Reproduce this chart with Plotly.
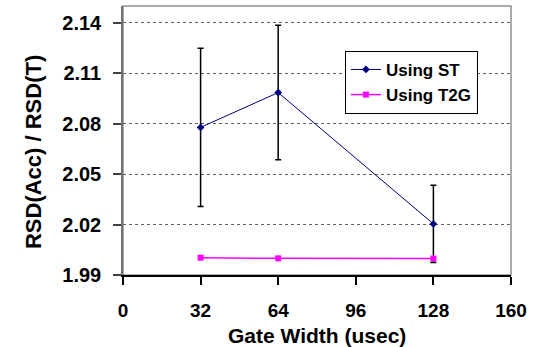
import plotly.graph_objects as go

# Gate widths (usec)
gate_width = [32, 64, 128]

# RSD(Acc)/RSD(T) ratios and their error half-widths
using_st = [2.0778, 2.0985, 2.0204]
using_st_err = [0.047, 0.040, 0.023]
using_t2g = [2.0003, 1.9999, 1.9998]

x_ticks = [0, 32, 64, 96, 128, 160]
y_ticks = [1.99, 2.02, 2.05, 2.08, 2.11, 2.14]

FONT = "Arial, Liberation Sans, sans-serif"

fig = go.Figure()

fig.add_trace(go.Scatter(
    x=gate_width, y=using_st, name="Using ST",
    mode="lines+markers",
    line=dict(color="#000080", width=1),
    marker=dict(symbol="diamond", size=6, color="#000080"),
    error_y=dict(type="data", array=using_st_err, visible=True,
                 color="black", thickness=1.5, width=3),
))

fig.add_trace(go.Scatter(
    x=gate_width, y=using_t2g, name="Using T2G",
    mode="lines+markers",
    line=dict(color="#FF00FF", width=1.5),
    marker=dict(symbol="square", size=6, color="#FF00FF"),
))

# plot-area frame
fig.add_shape(type="rect", xref="paper", yref="paper", x0=0, y0=0, x1=1, y1=1,
              line=dict(color="#909090", width=1.5), layer="below")

# axis titles
fig.add_annotation(text="Gate Width (usec)", xref="paper", yref="paper",
                   x=0.5, y=0, xanchor="center", yanchor="middle",
                   yshift=-60, showarrow=False,
                   font=dict(family=FONT, size=21, color="black", weight="bold"))
fig.add_annotation(text="RSD(Acc) / RSD(T)", xref="paper", yref="paper",
                   x=0, y=0.457, xanchor="center", yanchor="middle",
                   xshift=-90, textangle=-90, showarrow=False,
                   font=dict(family=FONT, size=22, color="black", weight="bold"))

fig.update_layout(
    width=541, height=347,
    margin=dict(l=123, r=30, t=6, b=72),
    paper_bgcolor="white", plot_bgcolor="white",
    font=dict(family=FONT, color="black"),
    showlegend=True,
    legend=dict(
        x=0.572, y=0.833, xanchor="left", yanchor="top",
        bgcolor="white", bordercolor="black", borderwidth=1,
        font=dict(family=FONT, size=17, color="black", weight="bold"),
        itemwidth=30, tracegroupgap=0,
    ),
    xaxis=dict(
        range=[0, 160], tickvals=x_ticks, ticktext=[str(v) for v in x_ticks],
        showgrid=False, zeroline=False,
        showline=True, linecolor="black", linewidth=1.5,
        ticks="outside", ticklen=8, tickcolor="black", tickwidth=1.5,
        ticklabelstandoff=9,
        tickfont=dict(family=FONT, size=19, color="black", weight="bold"),
        automargin=False,
    ),
    yaxis=dict(
        range=[1.99, 2.15], tickvals=y_ticks,
        ticktext=[f"{v:.2f}" for v in y_ticks],
        showgrid=True, gridcolor="#606060", griddash="dot", gridwidth=1,
        zeroline=False,
        showline=True, linecolor="#707070", linewidth=1.5,
        ticks="outside", ticklen=8, tickcolor="#404040", tickwidth=1.5,
        ticklabelstandoff=8,
        tickfont=dict(family=FONT, size=20, color="black", weight="bold"),
        automargin=False,
    ),
)

fig.write_html("out.html")
